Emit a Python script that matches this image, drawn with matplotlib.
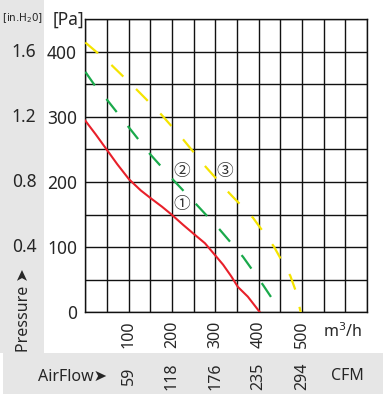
import numpy as np
import matplotlib
matplotlib.use("Agg")
import matplotlib.pyplot as plt
from matplotlib.patches import Rectangle
from matplotlib.transforms import blended_transform_factory

plt.rcParams['font.family'] = ['Noto Sans', 'DejaVu Sans']

# curve data (airflow m3/h, pressure Pa)
red_x = [0, 24, 49, 74, 101, 128, 151, 177, 199, 226, 249, 276, 299, 318, 337, 352, 375, 403]
red_y = [294, 273, 250, 227, 204, 187, 175, 162, 150, 134, 121, 106, 88, 73, 55, 39, 24, 0]
green_x = [0, 22, 49, 99, 149, 203, 257, 310, 364, 410, 432, 445]
green_y = [369, 348, 327, 285, 243, 203, 165, 127, 85, 42, 20, 0]
yellow_x = [0, 30, 61, 118, 176, 226, 278, 332, 387, 435, 473, 486, 497]
yellow_y = [414, 397, 379, 342, 303, 265, 223, 183, 145, 101, 56, 32, 0]

pa_ticks = [0, 100, 200, 300, 400]
inh2o_labels = ["0.4", "0.8", "1.2", "1.6"]
m3h_ticks = [100, 200, 300, 400, 500]
cfm_labels = ["59", "118", "176", "235", "294"]

W, H = 389, 400
fig = plt.figure(figsize=(W / 100, H / 100), dpi=100)

grey = "#e6e6e6"
txt = "#262626"
fig.patches.append(Rectangle((0, 1 - 353 / H), 44 / W, 353 / H, transform=fig.transFigure,
                             facecolor=grey, edgecolor="none", zorder=-5))
fig.patches.append(Rectangle((3 / W, 1 - 394 / H), 380 / W, 41 / H, transform=fig.transFigure,
                             facecolor=grey, edgecolor="none", zorder=-5))

left, right, top, bottom = 85.3, 367, 19, 312.3
ax = fig.add_axes([left / W, 1 - bottom / H, (right - left) / W, (bottom - top) / H])
ax.set_xlim(0, 650)
ax.set_ylim(0, 450)
ax.patch.set_alpha(0)

ax.set_xticks(np.arange(0, 651, 50), minor=True)
ax.set_yticks(np.arange(0, 451, 50), minor=True)
ax.grid(which="both", color="#111111", lw=1.0)
ax.set_axisbelow(True)
for s in ax.spines.values():
    s.set_linewidth(1.0)
    s.set_color("#111111")

ax.set_yticks(pa_ticks)
ax.set_yticklabels([str(v) for v in pa_ticks], fontsize=12.5, color=txt)
ax.set_xticks(m3h_ticks)
ax.set_xticklabels([str(v) for v in m3h_ticks], fontsize=11.5, rotation=90, color=txt)
ax.tick_params(which="both", length=0)
ax.tick_params(axis="y", pad=6)
ax.tick_params(axis="x", pad=6)

ax.plot(red_x, red_y, color="#e8202a", lw=1.5, zorder=3, solid_joinstyle="round")
ax.plot(green_x, green_y, color="#1aa94b", lw=1.6, dashes=(7.5, 8), zorder=3)
ax.plot(yellow_x, yellow_y, color="#f5e400", lw=1.6, dashes=(7.5, 8), zorder=3)

circ = ['Noto Sans CJK JP', 'DejaVu Sans']
ax.text(222, 216, "②", family=circ, fontsize=12, ha="center", va="center", color="#333333")
ax.text(222, 165, "①", family=circ, fontsize=12, ha="center", va="center", color="#333333")
ax.text(322, 216, "③", family=circ, fontsize=12, ha="center", va="center", color="#333333")

tr = blended_transform_factory(ax.transData, fig.transFigure)
for v, lab in zip(m3h_ticks, cfm_labels):
    ax.text(v, 1 - 376 / H, lab, transform=tr, rotation=90, ha="center", va="center",
            fontsize=11.5, color=txt)

fig.text(343 / W, 1 - 332 / H, "m$^3$/h", ha="center", va="center", fontsize=11.5, color=txt)
fig.text(347 / W, 1 - 376 / H, "CFM", ha="center", va="center", fontsize=11.5, color=txt)
fig.text(68 / W, 1 - 20 / H, "[Pa]", ha="center", va="center", fontsize=12.5, color=txt)
fig.text(22 / W, 1 - 18 / H, "[in.H$_2$0]", ha="center", va="center", fontsize=7.5,
         color=txt, family=["Liberation Sans Narrow", "DejaVu Sans"])

trl = blended_transform_factory(fig.transFigure, ax.transData)
for v, lab in zip(pa_ticks[1:], inh2o_labels):
    ax.text(24 / W, v, lab, transform=trl, ha="center", va="center", fontsize=12.5, color=txt)

fig.text(24 / W, 1 - 310 / H, "Pressure \u27a4", rotation=90, ha="center", va="center",
         fontsize=11.5, color=txt)
fig.text(72 / W, 1 - 377 / H, "AirFlow\u27a4", ha="center", va="center",
         fontsize=11.5, color=txt)

fig.savefig("out.png", dpi=100)
